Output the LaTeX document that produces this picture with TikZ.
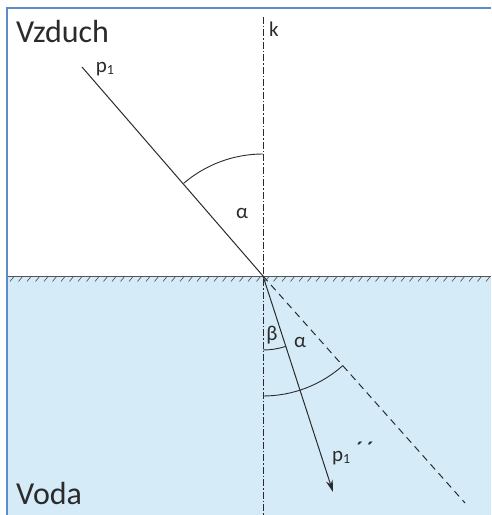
\documentclass[tikz,border=0pt]{standalone}
\usepackage{fontspec}
\setmainfont{Carlito}
\usetikzlibrary{arrows.meta}
\definecolor{water}{HTML}{D6EBF8}
\definecolor{frameblue}{HTML}{5B8BCB}
\definecolor{ink}{HTML}{2B2B2B}
\newcommand{\subone}{\raisebox{-0.25ex}{\fontsize{14}{14}\selectfont 1}}
\tikzset{
  ray/.style={draw=ink, line width=1pt},
  anglearc/.style={draw=ink, line width=0.9pt},
  lbl/.style={text=ink, font=\fontsize{21}{21}\selectfont, inner sep=0pt},
  biglbl/.style={text=ink, font=\fontsize{32}{32}\selectfont, inner sep=0pt},
}
\begin{document}
\begin{tikzpicture}[x=1pt,y=1pt]
\useasboundingbox (0,0) rectangle (491,515);
\fill[white] (0,0) rectangle (491,515);
% water
\fill[water] (7,0) rectangle (491,239);
% frame
\draw[frameblue, line width=2.2pt] (7,0) -- (7,507) -- (491,507);
% key points
\coordinate (O) at (263,239);
\coordinate (ktop) at (263,498);
\coordinate (kbot) at (263,0);
\coordinate (P) at (82,448);
\coordinate (D) at (465,12);
\coordinate (R) at (333,23);
\coordinate (wl) at (8,239);
\coordinate (wr) at (491,239);
% surface with hatching
\draw[ink!80, line width=0.8pt] (wl) -- (wr);
\foreach \x in {10,18.5,...,488} {
  \draw[ink!80, line width=0.7pt] (\x,233.5) -- (\x+4,238.5);
}
% normal k
\draw[ink, line width=0.9pt, dash pattern=on 7pt off 2pt on 1.5pt off 2pt] (ktop) -- (kbot);
% incident ray
\draw[ray] (P) -- (O);
% dashed continuation
\draw[ray, dash pattern=on 7pt off 5pt] (O) -- (D);
% refracted ray
\draw[ray, -{Stealth[length=12pt,width=7pt]}] (O) -- (R);
% angle arcs
\draw[anglearc] ([shift={(90:122)}]O) arc[start angle=90, end angle=130.5, radius=122];
\draw[anglearc] ([shift={(-90:74)}]O) arc[start angle=-90, end angle=-72, radius=74];
\draw[anglearc] ([shift={(-90:120)}]O) arc[start angle=-90, end angle=-48.3, radius=120];
% labels
\node[biglbl, anchor=base west] (vz) at (16,472) {Vzduch};
\node[biglbl, anchor=base west] (vo) at (16,10) {Voda};
\node[lbl, anchor=base west] (k) at (269,478) {k};
\node[lbl] (p1) at (105,446) {p\subone};
\node[lbl] (al1) at (242,302) {α};
\node[lbl] (be) at (272,180) {β};
\node[lbl] (al2) at (300,173) {α};
\node[lbl, anchor=west] (p2) at (332,62) {p\subone\hspace{0.3em}\raisebox{0.5ex}{\textbf{´}\hspace{0.2em}\textbf{´}}};
\end{tikzpicture}
\end{document}
